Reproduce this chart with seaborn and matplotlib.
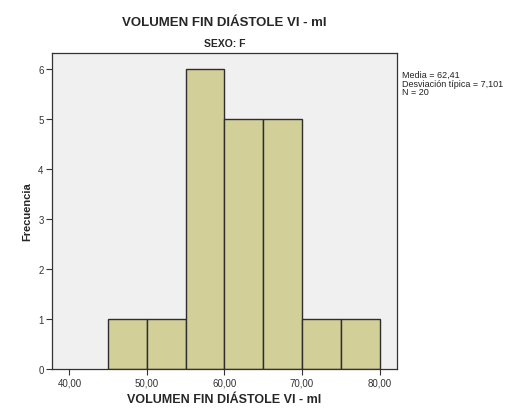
import matplotlib
matplotlib.use("Agg")
import matplotlib.pyplot as plt
import seaborn as sns
import pandas as pd

bin_edges = [45, 50, 55, 60, 65, 70, 75, 80]
bin_centers = [47.5, 52.5, 57.5, 62.5, 67.5, 72.5, 77.5]
counts = [1, 1, 6, 5, 5, 1, 1]
x_ticks = [40, 50, 60, 70, 80]
x_tick_labels = ["40,00", "50,00", "60,00", "70,00", "80,00"]
y_ticks = [0, 1, 2, 3, 4, 5, 6]
stats_text = "Media = 62,41\nDesviación típica = 7,101\nN = 20"

sns.set_style("white")
plt.rcParams['font.family'] = ['Liberation Sans', 'DejaVu Sans']

df = pd.DataFrame({"x": bin_centers, "w": counts})

fig = plt.figure(figsize=(5.14, 4.14), dpi=100)
ax = fig.add_axes([52/514, 1-370/414, (397-52)/514, (370-54)/414])
sns.histplot(data=df, x="x", weights="w", bins=bin_edges, ax=ax,
             color="#D3CF99", alpha=1, edgecolor="#2e2e2e", linewidth=1.0)
ax.set_facecolor("#F0F0F0")
ax.set_xlim(37.75, 82.25)
ax.set_ylim(0, 6.32)
ax.set_xticks(x_ticks)
ax.set_xticklabels(x_tick_labels)
ax.set_yticks(y_ticks)
ax.tick_params(axis='both', bottom=True, left=True, direction='out', length=4,
               width=0.8, labelsize=7, colors="#333333", labelcolor="#333333", pad=2)
for s in ax.spines.values():
    s.set_color("#333333")
    s.set_linewidth(0.9)
ax.set_xlabel("VOLUMEN FIN DIÁSTOLE VI - ml", fontsize=9, fontweight='bold', labelpad=4)
ax.set_ylabel("Frecuencia", fontsize=8, fontweight='bold', labelpad=4)
fig.text(0.5 * (52 + 397) / 514, 1 - 23/414, "VOLUMEN FIN DIÁSTOLE VI - ml",
         ha='center', va='center', fontsize=9.5, fontweight='bold')
ax.set_title("SEXO: F", fontsize=7.5, fontweight='bold', pad=5)
fig.text(402/514, 1 - 71/414, stats_text, ha='left', va='top', fontsize=6.5,
         linespacing=0.95, color="#222222")
fig.savefig("out.png", dpi=100)
